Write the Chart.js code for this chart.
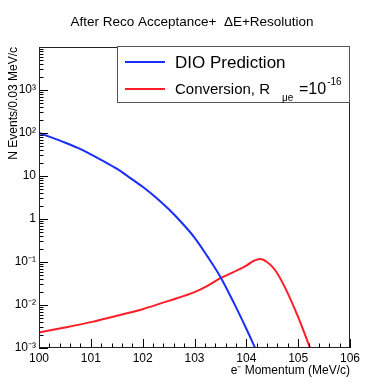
<!DOCTYPE html>
<html>
<head>
<meta charset="utf-8">
<script src="https://cdn.jsdelivr.net/npm/chart.js@4.4.1/dist/chart.umd.min.js"></script>
<style>
  html, body { margin: 0; padding: 0; background: #fff; }
</style>
</head>
<body>
<canvas id="grafico" width="373" height="385"></canvas>
<script>
// Dados (momento em MeV/c, eventos por 0.03 MeV/c)
const dioMomento = [100, 100.25, 100.5, 100.75, 101, 101.25, 101.5, 101.75, 102, 102.25, 102.5, 102.75, 103, 103.25, 103.5, 103.75, 104, 104.17];
const dioEventos = [100, 78, 60, 45, 32, 22, 14.8, 9.2, 5.6, 3.2, 1.7, 0.83, 0.37, 0.135, 0.045, 0.0118, 0.0028, 0.001];

const convMomento = [100, 100.5, 101, 101.5, 102, 102.5, 103, 103.25, 103.5, 103.75, 104, 104.15, 104.27, 104.4, 104.55, 104.75, 105, 105.23];
const convEventos = [0.0023, 0.003, 0.004, 0.0056, 0.008, 0.0125, 0.02, 0.028, 0.042, 0.058, 0.082, 0.108, 0.118, 0.1, 0.066, 0.025, 0.0052, 0.001];

// Eixo Y: décadas e rótulos
const decadas = [1e-3, 1e-2, 1e-1, 1, 10, 1e2, 1e3, 1e4];
const rotulosY = ['10\u207B\u00B3', '10\u207B\u00B2', '10\u207B\u00B9', '1', '10', '10\u00B2', '10\u00B3', ''];

const tituloGrafico = 'After Reco Acceptance+  \u0394E+Resolution';
const tituloX = 'e\u207B Momentum (MeV/c)';
const tituloY = 'N Events/0.03 MeV/c';

const fonte = "'Liberation Sans', Arial, Helvetica, sans-serif";
const azul = 'rgb(25, 45, 255)';
const vermelho = 'rgb(255, 30, 40)';

function ehInteiro(v) {
  return Math.abs(v - Math.round(v)) < 1e-6;
}
function ehDecada(v) {
  return decadas.some(d => Math.abs(v / d - 1) < 1e-6);
}

// Título centralizado na página (o do Chart.js fica preso à área com padding)
const tituloRoot = {
  id: 'tituloRoot',
  afterDraw(chart) {
    const { ctx } = chart;
    ctx.save();
    ctx.fillStyle = '#000';
    ctx.font = '13.5px ' + fonte;
    ctx.textAlign = 'center';
    ctx.textBaseline = 'middle';
    ctx.fillText(tituloGrafico, 192, 22);
    ctx.restore();
  }
};

// Marcas do eixo desenhadas para dentro (estilo ROOT) e moldura
const marcasInternas = {
  id: 'marcasInternas',
  afterDatasetsDraw(chart) {
    const { ctx, chartArea: a, scales: { x, y } } = chart;
    ctx.save();
    ctx.strokeStyle = '#000';
    ctx.lineWidth = 1;
    ctx.beginPath();
    x.ticks.forEach(t => {
      const px = Math.round(x.getPixelForValue(t.value)) + 0.5;
      const len = ehInteiro(t.value) ? 9 : 4.5;
      ctx.moveTo(px, a.bottom);
      ctx.lineTo(px, a.bottom - len);
    });
    y.ticks.forEach(t => {
      const py = Math.round(y.getPixelForValue(t.value)) + 0.5;
      const len = ehDecada(t.value) ? 9 : 4.5;
      ctx.moveTo(a.left, py);
      ctx.lineTo(a.left + len, py);
    });
    ctx.stroke();
    ctx.strokeStyle = '#222';
    ctx.strokeRect(Math.round(a.left) + 0.5, Math.round(a.top) + 0.5,
      Math.round(a.right - a.left) - 1, Math.round(a.bottom - a.top) - 1);
    ctx.restore();
  }
};

// Legenda com subscrito e sobrescrito
const legendaRoot = {
  id: 'legendaRoot',
  afterDraw(chart) {
    const { ctx, chartArea: a } = chart;
    const caixa = { x: 117, y: a.top - 1, w: a.right - 117, h: 57 };
    ctx.save();
    ctx.fillStyle = '#fff';
    ctx.fillRect(caixa.x, caixa.y, caixa.w, caixa.h);
    ctx.strokeStyle = '#555';
    ctx.lineWidth = 1;
    ctx.strokeRect(caixa.x + 0.5, caixa.y + 0.5, caixa.w - 1, caixa.h - 1);

    const ds = chart.data.datasets;
    const linhas = [caixa.y + 16, caixa.y + 43];
    ds.forEach((d, i) => {
      ctx.strokeStyle = d.borderColor;
      ctx.lineWidth = 2;
      ctx.beginPath();
      ctx.moveTo(125, linhas[i]);
      ctx.lineTo(165, linhas[i]);
      ctx.stroke();
    });

    ctx.fillStyle = '#000';
    ctx.textBaseline = 'alphabetic';
    ctx.textAlign = 'left';
    ctx.font = '17px ' + fonte;
    ctx.fillText(ds[0].label, 175, linhas[0] + 6);

    ctx.font = '15px ' + fonte;
    ctx.fillText('Conversion, R', 175, linhas[1] + 5);
    ctx.font = '10px ' + fonte;
    ctx.fillText('\u03BCe', 282, linhas[1] + 12);
    ctx.font = '16px ' + fonte;
    ctx.fillText('=10', 299, linhas[1] + 5);
    const w = ctx.measureText('=10').width;
    ctx.font = '10px ' + fonte;
    ctx.fillText('-16', 299 + w + 1, linhas[1] - 4);
    ctx.restore();
  }
};

const ctx = document.getElementById('grafico').getContext('2d');
new Chart(ctx, {
  type: 'line',
  data: {
    datasets: [{
      label: 'DIO Prediction',
      data: dioMomento.map((m, i) => ({ x: m, y: dioEventos[i] })),
      borderColor: azul,
      borderWidth: 2,
      pointRadius: 0,
      fill: false,
      cubicInterpolationMode: 'monotone'
    }, {
      label: 'Conversion, R\u03BCe=10\u207B\u00B9\u2076',
      data: convMomento.map((m, i) => ({ x: m, y: convEventos[i] })),
      borderColor: vermelho,
      borderWidth: 2,
      pointRadius: 0,
      fill: false,
      cubicInterpolationMode: 'monotone'
    }]
  },
  options: {
    responsive: false,
    animation: false,
    layout: { padding: { left: 0, right: 23, top: 47, bottom: 0 } },
    plugins: {
      legend: { display: false },
      tooltip: { enabled: false },
      title: { display: false }
    },
    scales: {
      x: {
        type: 'linear',
        min: 100,
        max: 106,
        border: { display: false },
        grid: { display: false, drawTicks: false },
        ticks: {
          stepSize: 0.2,
          autoSkip: false,
          maxRotation: 0,
          padding: 3,
          color: '#000',
          font: { family: fonte, size: 12 },
          callback: v => ehInteiro(v) ? String(Math.round(v)) : ''
        },
        title: {
          display: true,
          text: tituloX,
          align: 'end',
          color: '#000',
          font: { family: fonte, size: 12 },
          padding: { top: 0, bottom: 7 }
        },
        afterFit: s => { s.height = 37; }
      },
      y: {
        type: 'logarithmic',
        min: 1e-3,
        max: 1e4,
        border: { display: false },
        grid: { display: false, drawTicks: false },
        afterBuildTicks: s => {
          const valores = [];
          decadas.forEach(d => {
            for (let k = 1; k <= 9; k++) {
              const v = d * k;
              if (v <= 1e4 * 1.0000001) valores.push(v);
            }
          });
          s.ticks = valores.map(v => ({ value: v }));
        },
        ticks: {
          autoSkip: false,
          padding: 3,
          color: '#000',
          font: { family: fonte, size: 12 },
          callback: v => {
            const i = decadas.findIndex(d => Math.abs(v / d - 1) < 1e-6);
            return i >= 0 ? rotulosY[i] : '';
          }
        },
        title: {
          display: true,
          text: tituloY,
          align: 'end',
          color: '#000',
          font: { family: fonte, size: 12 },
          padding: { top: 6, bottom: 0 }
        },
        afterFit: s => { s.width = 39; }
      }
    }
  },
  plugins: [marcasInternas, legendaRoot, tituloRoot]
});
</script>
</body>
</html>
